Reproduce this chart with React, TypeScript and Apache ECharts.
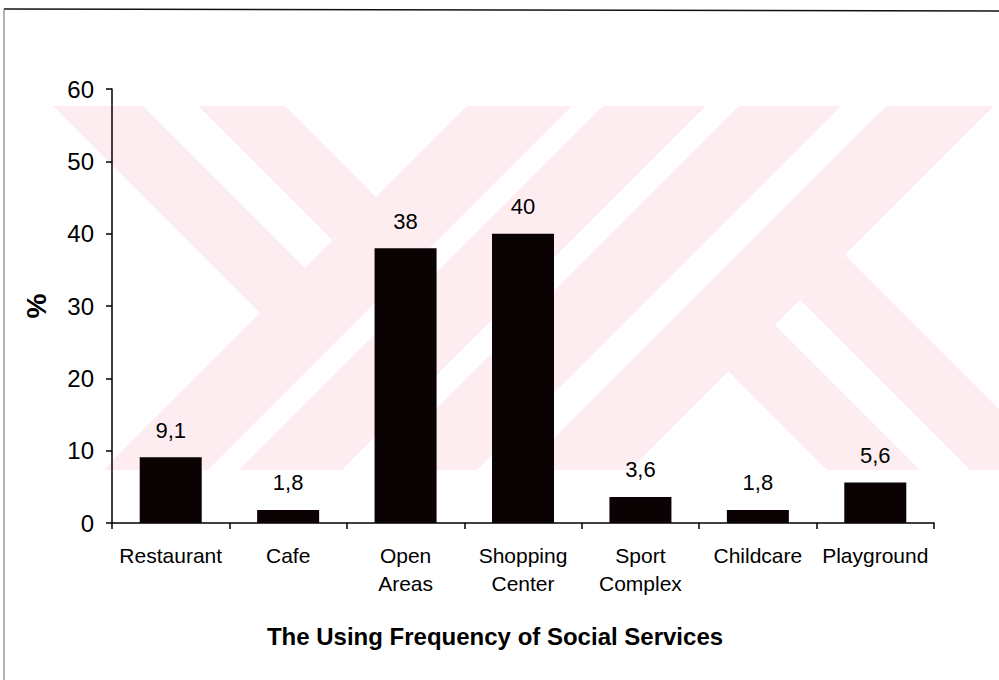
import React, { useEffect, useRef } from "react";
import * as echarts from "echarts";

// ---- data ----
const categories = [
  "Restaurant",
  "Cafe",
  "Open\nAreas",
  "Shopping\nCenter",
  "Sport\nComplex",
  "Childcare",
  "Playground",
];
const values = [9.1, 1.8, 38, 40, 3.6, 1.8, 5.6];
const yMin = 0;
const yMax = 60;
const yStep = 10;
const xTitle = "The Using Frequency of Social Services";
const yTitle = "%";

// ---- background watermark (decoration, 45° bands; u = x + y, v = x - y) ----
type Region = { uMin?: number; uMax?: number; vMin?: number; vMax?: number };
const wmBox = { left: 0, right: 999, top: 106, bottom: 470 };
const wmRegions: Region[] = [
  { uMax: 573, vMin: -53, vMax: 37 },
  { uMax: 573, vMin: 92, vMax: 179 },
  { uMin: 573, uMax: 678 },
  { uMin: 709, uMax: 812 },
  { uMin: 845, uMax: 947 },
  { uMin: 992, uMax: 1100 },
  { uMin: 1100, vMin: 357, vMax: 450 },
  { uMin: 1100, vMin: 500, vMax: 590 },
];
const wmColor = "#fdedf0";

type Pt = [number, number];
function clipHalf(poly: Pt[], a: number, b: number, c: number): Pt[] {
  // keep points with a*x + b*y <= c
  const out: Pt[] = [];
  for (let i = 0; i < poly.length; i++) {
    const p = poly[i];
    const q = poly[(i + 1) % poly.length];
    const fp = a * p[0] + b * p[1] - c;
    const fq = a * q[0] + b * q[1] - c;
    if (fp <= 0) out.push(p);
    if ((fp < 0 && fq > 0) || (fp > 0 && fq < 0)) {
      const t = fp / (fp - fq);
      out.push([p[0] + t * (q[0] - p[0]), p[1] + t * (q[1] - p[1])]);
    }
  }
  return out;
}

function regionPolygon(r: Region): Pt[] {
  let poly: Pt[] = [
    [wmBox.left, wmBox.top],
    [wmBox.right, wmBox.top],
    [wmBox.right, wmBox.bottom],
    [wmBox.left, wmBox.bottom],
  ];
  if (r.uMax !== undefined) poly = clipHalf(poly, 1, 1, r.uMax);
  if (r.uMin !== undefined) poly = clipHalf(poly, -1, -1, -r.uMin);
  if (r.vMax !== undefined) poly = clipHalf(poly, 1, -1, r.vMax);
  if (r.vMin !== undefined) poly = clipHalf(poly, -1, 1, -r.vMin);
  return poly;
}

const FONT = '"Liberation Sans", Arial, Helvetica, sans-serif';

export default function App() {
  const ref = useRef<HTMLDivElement>(null);

  useEffect(() => {
    if (!ref.current) return;
    const chart = echarts.init(ref.current, undefined, { renderer: "svg" });

    const watermark = wmRegions
      .map((r) => regionPolygon(r))
      .filter((p) => p.length >= 3)
      .map((p) => ({
        type: "polygon",
        silent: true,
        z: -10,
        shape: { points: p },
        style: { fill: wmColor, stroke: "none" },
      }));

    const frame = [
      {
        type: "line",
        silent: true,
        z: 10,
        shape: { x1: 4, y1: 9, x2: 999, y2: 11 },
        style: { stroke: "#111", lineWidth: 1.5 },
      },
      {
        type: "line",
        silent: true,
        z: 10,
        shape: { x1: 4, y1: 9, x2: 4, y2: 680 },
        style: { stroke: "#666", lineWidth: 1 },
      },
    ];

    const titleText = {
      type: "text",
      silent: true,
      z: 10,
      x: 495,
      y: 636,
      style: {
        text: xTitle,
        fill: "#000",
        font: `bold 24px ${FONT}`,
        textAlign: "center",
        textVerticalAlign: "middle",
      },
    };

    chart.setOption({
      animation: false,
      backgroundColor: "#ffffff",
      textStyle: { fontFamily: FONT, color: "#000" },
      grid: { left: 112, right: 65, top: 89, bottom: 157, containLabel: false },
      graphic: [...watermark, ...frame, titleText],
      xAxis: {
        type: "category",
        data: categories,
        boundaryGap: true,
        axisLine: { show: true, lineStyle: { color: "#000", width: 1.5 } },
        axisTick: {
          show: true,
          alignWithLabel: false,
          length: 6,
          lineStyle: { color: "#000", width: 1.5 },
        },
        axisLabel: {
          interval: 0,
          color: "#000",
          fontFamily: FONT,
          fontSize: 21,
          lineHeight: 28,
          margin: 18,
        },
        splitLine: { show: false },
      },
      yAxis: {
        type: "value",
        min: yMin,
        max: yMax,
        interval: yStep,
        axisLine: { show: true, lineStyle: { color: "#000", width: 1.5 } },
        axisTick: { show: true, length: 6, lineStyle: { color: "#000", width: 1.5 } },
        axisLabel: { color: "#000", fontFamily: FONT, fontSize: 24, margin: 18 },
        splitLine: { show: false },
        name: yTitle,
        nameLocation: "middle",
        nameGap: 62,
        nameRotate: 90,
        nameTextStyle: {
          fontFamily: FONT,
          fontSize: 28,
          fontWeight: "bold",
          color: "#000",
        },
      },
      series: [
        {
          type: "bar",
          data: values,
          barWidth: 62,
          itemStyle: { color: "#0b0204" },
          label: {
            show: true,
            position: "top",
            distance: 16,
            color: "#000",
            fontFamily: FONT,
            fontSize: 22,
            formatter: (p: any) => String(p.value).replace(".", ","),
          },
        },
      ],
    });

    return () => chart.dispose();
  }, []);

  return (
    <div
      ref={ref}
      style={{ position: "fixed", left: 0, top: 0, width: 999, height: 680, background: "#fff" }}
    />
  );
}
